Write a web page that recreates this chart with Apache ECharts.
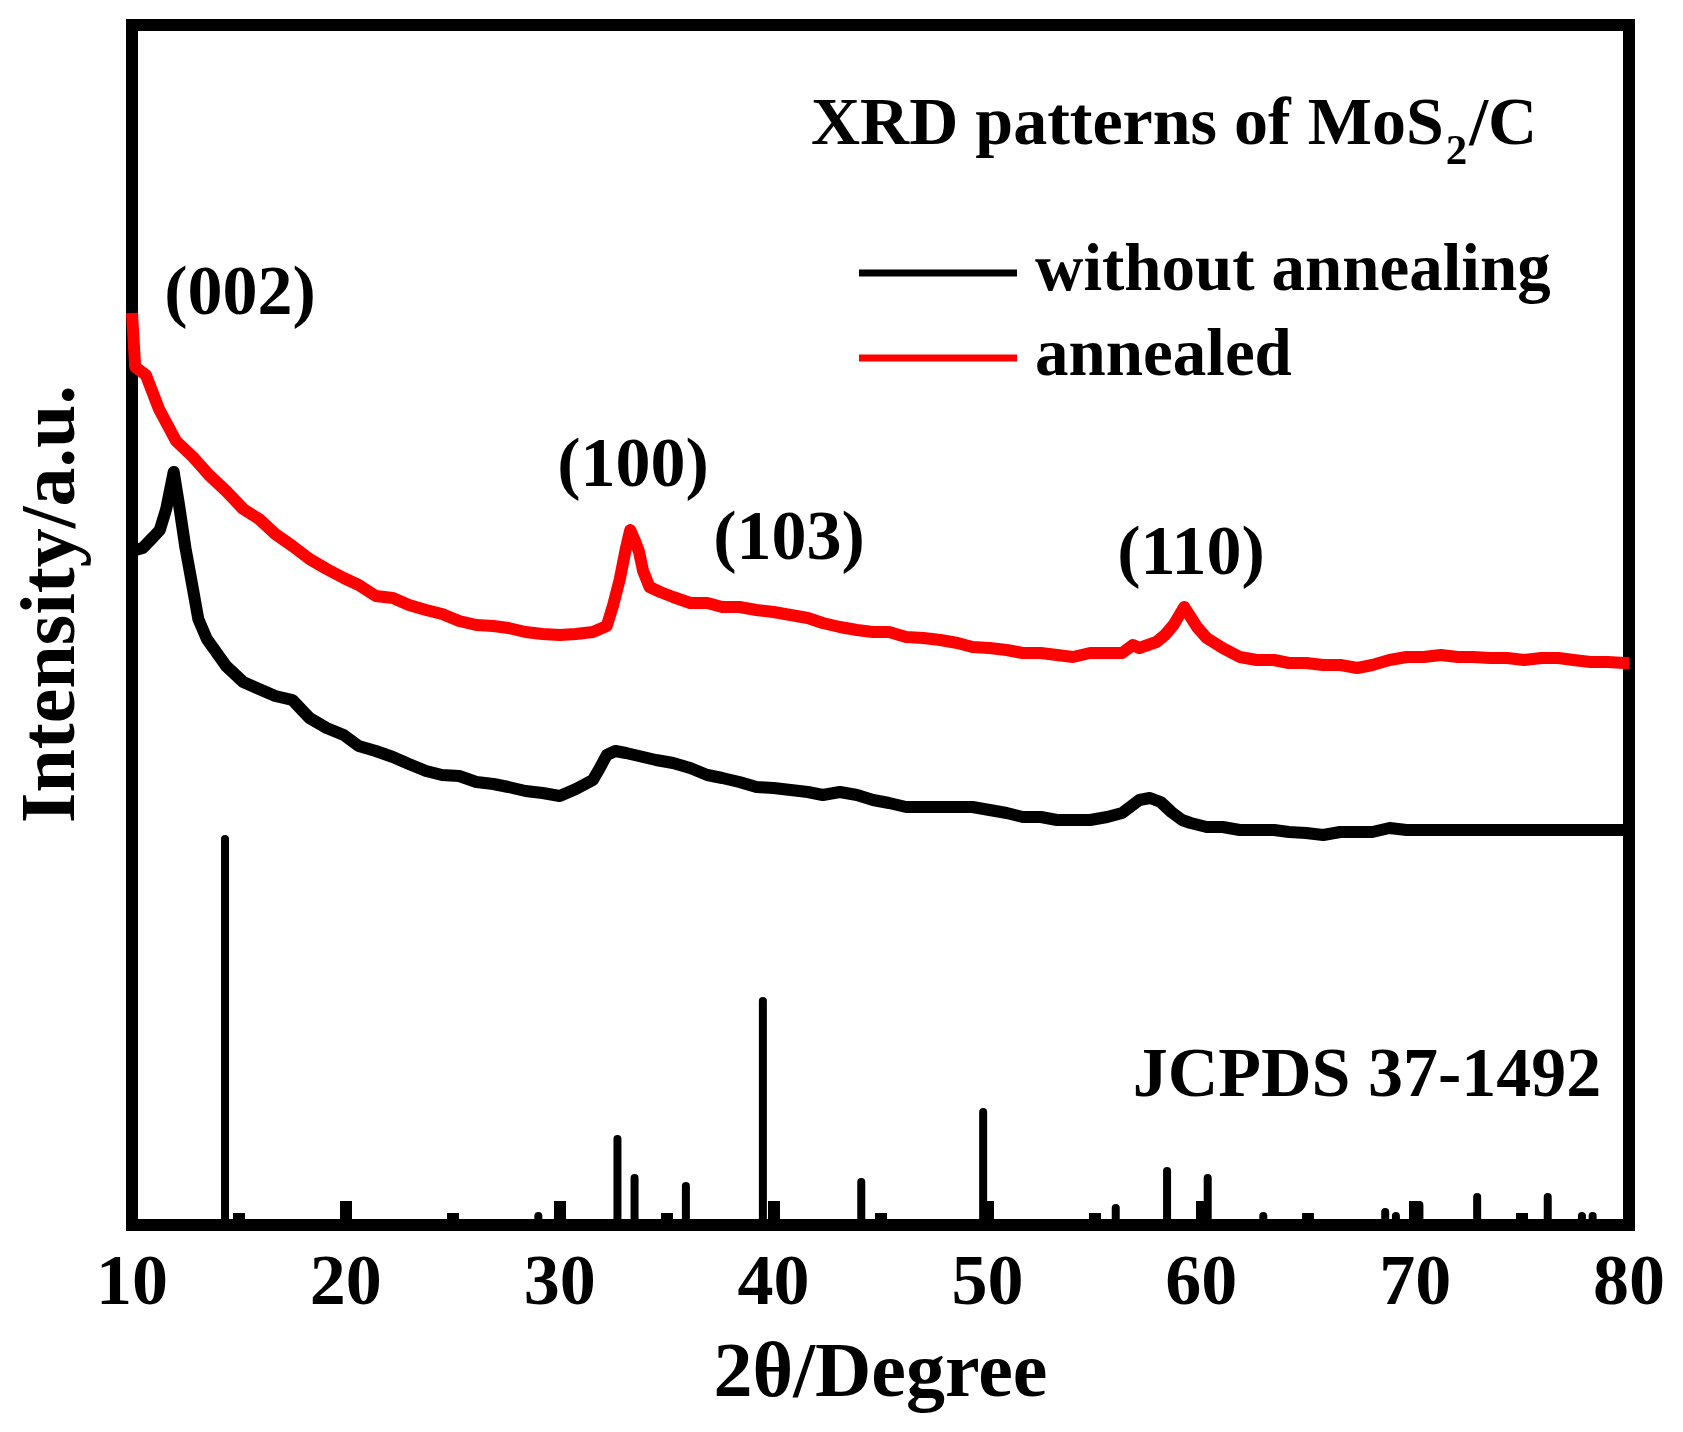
<!DOCTYPE html>
<html>
<head>
<meta charset="utf-8">
<script src="https://cdn.jsdelivr.net/npm/echarts@6/dist/echarts.min.js"></script>
<style>
html,body{margin:0;padding:0;background:#fff;}
#chart{width:1683px;height:1432px;}
</style>
</head>
<body>
<div id="chart"></div>
<script>
// 2θ (degree) and intensity (a.u.)
const redAngles = [10.0,10.15,10.65,11.26,12.06,12.85,13.6,14.4,15.2,15.94,16.7,17.5,18.3,19.1,19.9,20.6,21.4,22.2,22.95,23.75,24.5,25.3,26.1,26.9,27.6,28.4,29.2,30.0,30.76,31.55,32.2,32.5,32.8,33.1,33.3,33.5,33.7,33.9,34.2,34.7,35.3,36.1,36.9,37.6,38.4,39.2,40.0,40.8,41.6,42.3,43.1,43.9,44.65,45.4,46.2,47.0,47.8,48.6,49.3,50.1,50.9,51.65,52.5,53.25,54.0,54.8,55.6,56.3,56.8,57.1,57.5,57.9,58.3,58.7,59.2,59.8,60.25,61.0,61.8,62.6,63.4,64.1,64.9,65.7,66.5,67.3,68.0,68.8,69.6,70.4,71.2,72.0,72.7,73.5,74.3,75.1,75.9,76.7,77.4,78.2,79.0,79.8,80.0];
const redValues = [912,858,850,816,784,768,750,734,716,706,691,679,666,656,647,640,629,627,620,615,611,604,600,599,597,593,591,590,591,593,599,620,645,677,695,685,674,654,638,633,628,622,622,618,618,615,613,610,607,602,598,595,593,593,588,587,585,582,578,577,575,572,572,570,568,572,572,572,580,577,580,583,590,600,618,598,587,577,568,565,565,562,562,560,560,557,560,565,568,568,570,568,568,567,567,565,567,567,565,563,563,562,562];
const blackAngles = [10.0,10.5,11.0,11.3,11.6,11.95,12.2,12.5,12.85,13.1,13.5,13.9,14.4,15.2,15.94,16.7,17.5,18.3,19.1,19.9,20.6,21.4,22.2,22.95,23.75,24.5,25.3,26.1,26.9,27.6,28.4,29.2,30.0,30.76,31.55,31.85,32.2,32.6,33.1,33.9,34.5,35.3,36.1,36.9,37.6,38.4,39.2,40.0,40.8,41.6,42.3,43.1,43.9,44.65,45.4,46.2,47.0,47.8,48.6,49.3,50.1,50.9,51.65,52.5,53.25,54.0,54.8,55.6,56.3,57.1,57.6,58.1,58.6,59.1,59.5,60.25,61.0,61.8,62.6,63.4,64.1,64.9,65.7,66.5,67.3,68.0,68.8,69.6,71.0,72.5,74.0,75.5,77.0,78.5,80.0];
const blackValues = [674,677,688,695,716,753,720,677,636,606,586,574,559,543,536,529,525,507,497,490,479,474,468,461,454,450,449,443,441,438,434,432,429,436,445,456,470,474,472,468,465,462,457,450,447,443,438,437,435,433,430,433,430,425,422,418,418,418,418,418,415,412,408,408,405,405,405,408,412,425,427,423,413,405,402,398,398,395,395,395,393,392,390,393,393,393,397,395,395,395,395,395,395,395,395];
// JCPDS 37-1492 reference lines
const stickAngles = [14.35,29.0,32.7,33.5,35.9,39.5,44.1,49.8,56.0,58.4,60.3,62.9,68.6,69.1,70.2,72.9,76.2,77.8,78.3];
const stickValues = [390,13,90,51,43,228,47,117,21,58,51,13,17,13,24,32,32,13,13];
// annotations
const peakLabels = ['(002)','(100)','(103)','(110)'];
const peakLabelAngles = [15.05,33.43,40.72,59.52];
const peakLabelLevels = [929,757,684,669];

const FONT = "'Liberation Serif','Times New Roman',serif";
const zip = (a,b) => a.map((x,i)=>[x,b[i]]);

const chart = echarts.init(document.getElementById('chart'), null, {renderer:'canvas'});
chart.setOption({
  backgroundColor:'#fff',
  animation:false,
  title:{
    text:'{a|XRD patterns of MoS}{s|2}{a|/C}',
    left:811, top:78, padding:0,
    textStyle:{
      rich:{
        a:{fontFamily:FONT,fontWeight:'bold',fontSize:68,lineHeight:70,color:'#000'},
        s:{fontFamily:FONT,fontWeight:'bold',fontSize:43,lineHeight:96,verticalAlign:'bottom',color:'#000',padding:[0,2,0,2]}
      }
    }
  },
  legend:{
    data:['without annealing','annealed'],
    orient:'vertical',
    left:859, top:230, padding:0,
    itemGap:-1,
    itemWidth:158, itemHeight:7,
    icon:'rect',
    selectedMode:false,
    textStyle:{fontFamily:FONT,fontWeight:'bold',fontSize:67,lineHeight:76,color:'#000',padding:[10,0,0,13]}
  },
  grid:{left:132,right:54,top:25,bottom:207,show:true,borderWidth:12,borderColor:'#000',containLabel:false},
  xAxis:{
    type:'value', min:10, max:80, interval:10,
    name:'2θ/Degree', nameLocation:'middle', nameGap:112,
    nameTextStyle:{fontFamily:FONT,fontWeight:'bold',fontSize:78,lineHeight:78,color:'#000'},
    axisLine:{show:true,lineStyle:{color:'#000',width:12}},
    axisTick:{show:true,inside:true,length:24,lineStyle:{color:'#000',width:12}},
    minorTick:{show:true,splitNumber:2,length:12,lineStyle:{color:'#000',width:12}},
    splitLine:{show:false},
    axisLabel:{show:true,margin:24,fontFamily:FONT,fontWeight:'bold',fontSize:72,lineHeight:72,color:'#000',showMinLabel:true,showMaxLabel:true}
  },
  yAxis:{
    type:'value', min:0, max:1200,
    name:'Intensity/a.u.', nameLocation:'middle', nameGap:39,
    nameTextStyle:{fontFamily:FONT,fontWeight:'bold',fontSize:78,lineHeight:78,color:'#000',padding:[0,0,0,42]},
    axisLine:{show:true,lineStyle:{color:'#000',width:12}},
    axisTick:{show:false},
    axisLabel:{show:false},
    splitLine:{show:false}
  },
  series:[
    {
      name:'without annealing', type:'line', data:zip(blackAngles,blackValues),
      showSymbol:false, symbol:'none', smooth:false,
      lineStyle:{color:'#000',width:12,join:'round'}, itemStyle:{color:'#000'}, z:3
    },
    {
      name:'annealed', type:'line', data:zip(redAngles,redValues),
      showSymbol:false, symbol:'none', smooth:false,
      lineStyle:{color:'#ff0000',width:12,join:'round'}, itemStyle:{color:'#ff0000'}, z:4,
      markPoint:{
        symbol:'circle', symbolSize:1, itemStyle:{color:'rgba(0,0,0,0)'},
        label:{show:true,position:'inside',formatter:p=>p.name,fontFamily:FONT,fontWeight:'bold',fontSize:70,color:'#000'},
        data:peakLabels.map((t,i)=>({name:t,coord:[peakLabelAngles[i],peakLabelLevels[i]]}))
      }
    },
    {
      name:'JCPDS 37-1492', type:'bar', data:zip(stickAngles,stickValues),
      barWidth:8, itemStyle:{color:'#000',borderRadius:[4,4,0,0]}, z:2,
      markPoint:{
        symbol:'circle', symbolSize:1, itemStyle:{color:'rgba(0,0,0,0)'},
        label:{show:true,position:'inside',formatter:p=>p.name,fontFamily:FONT,fontWeight:'bold',fontSize:70,color:'#000'},
        data:[{name:'JCPDS 37-1492',coord:[67.75,147]}]
      }
    }
  ]
});
</script>
</body>
</html>
